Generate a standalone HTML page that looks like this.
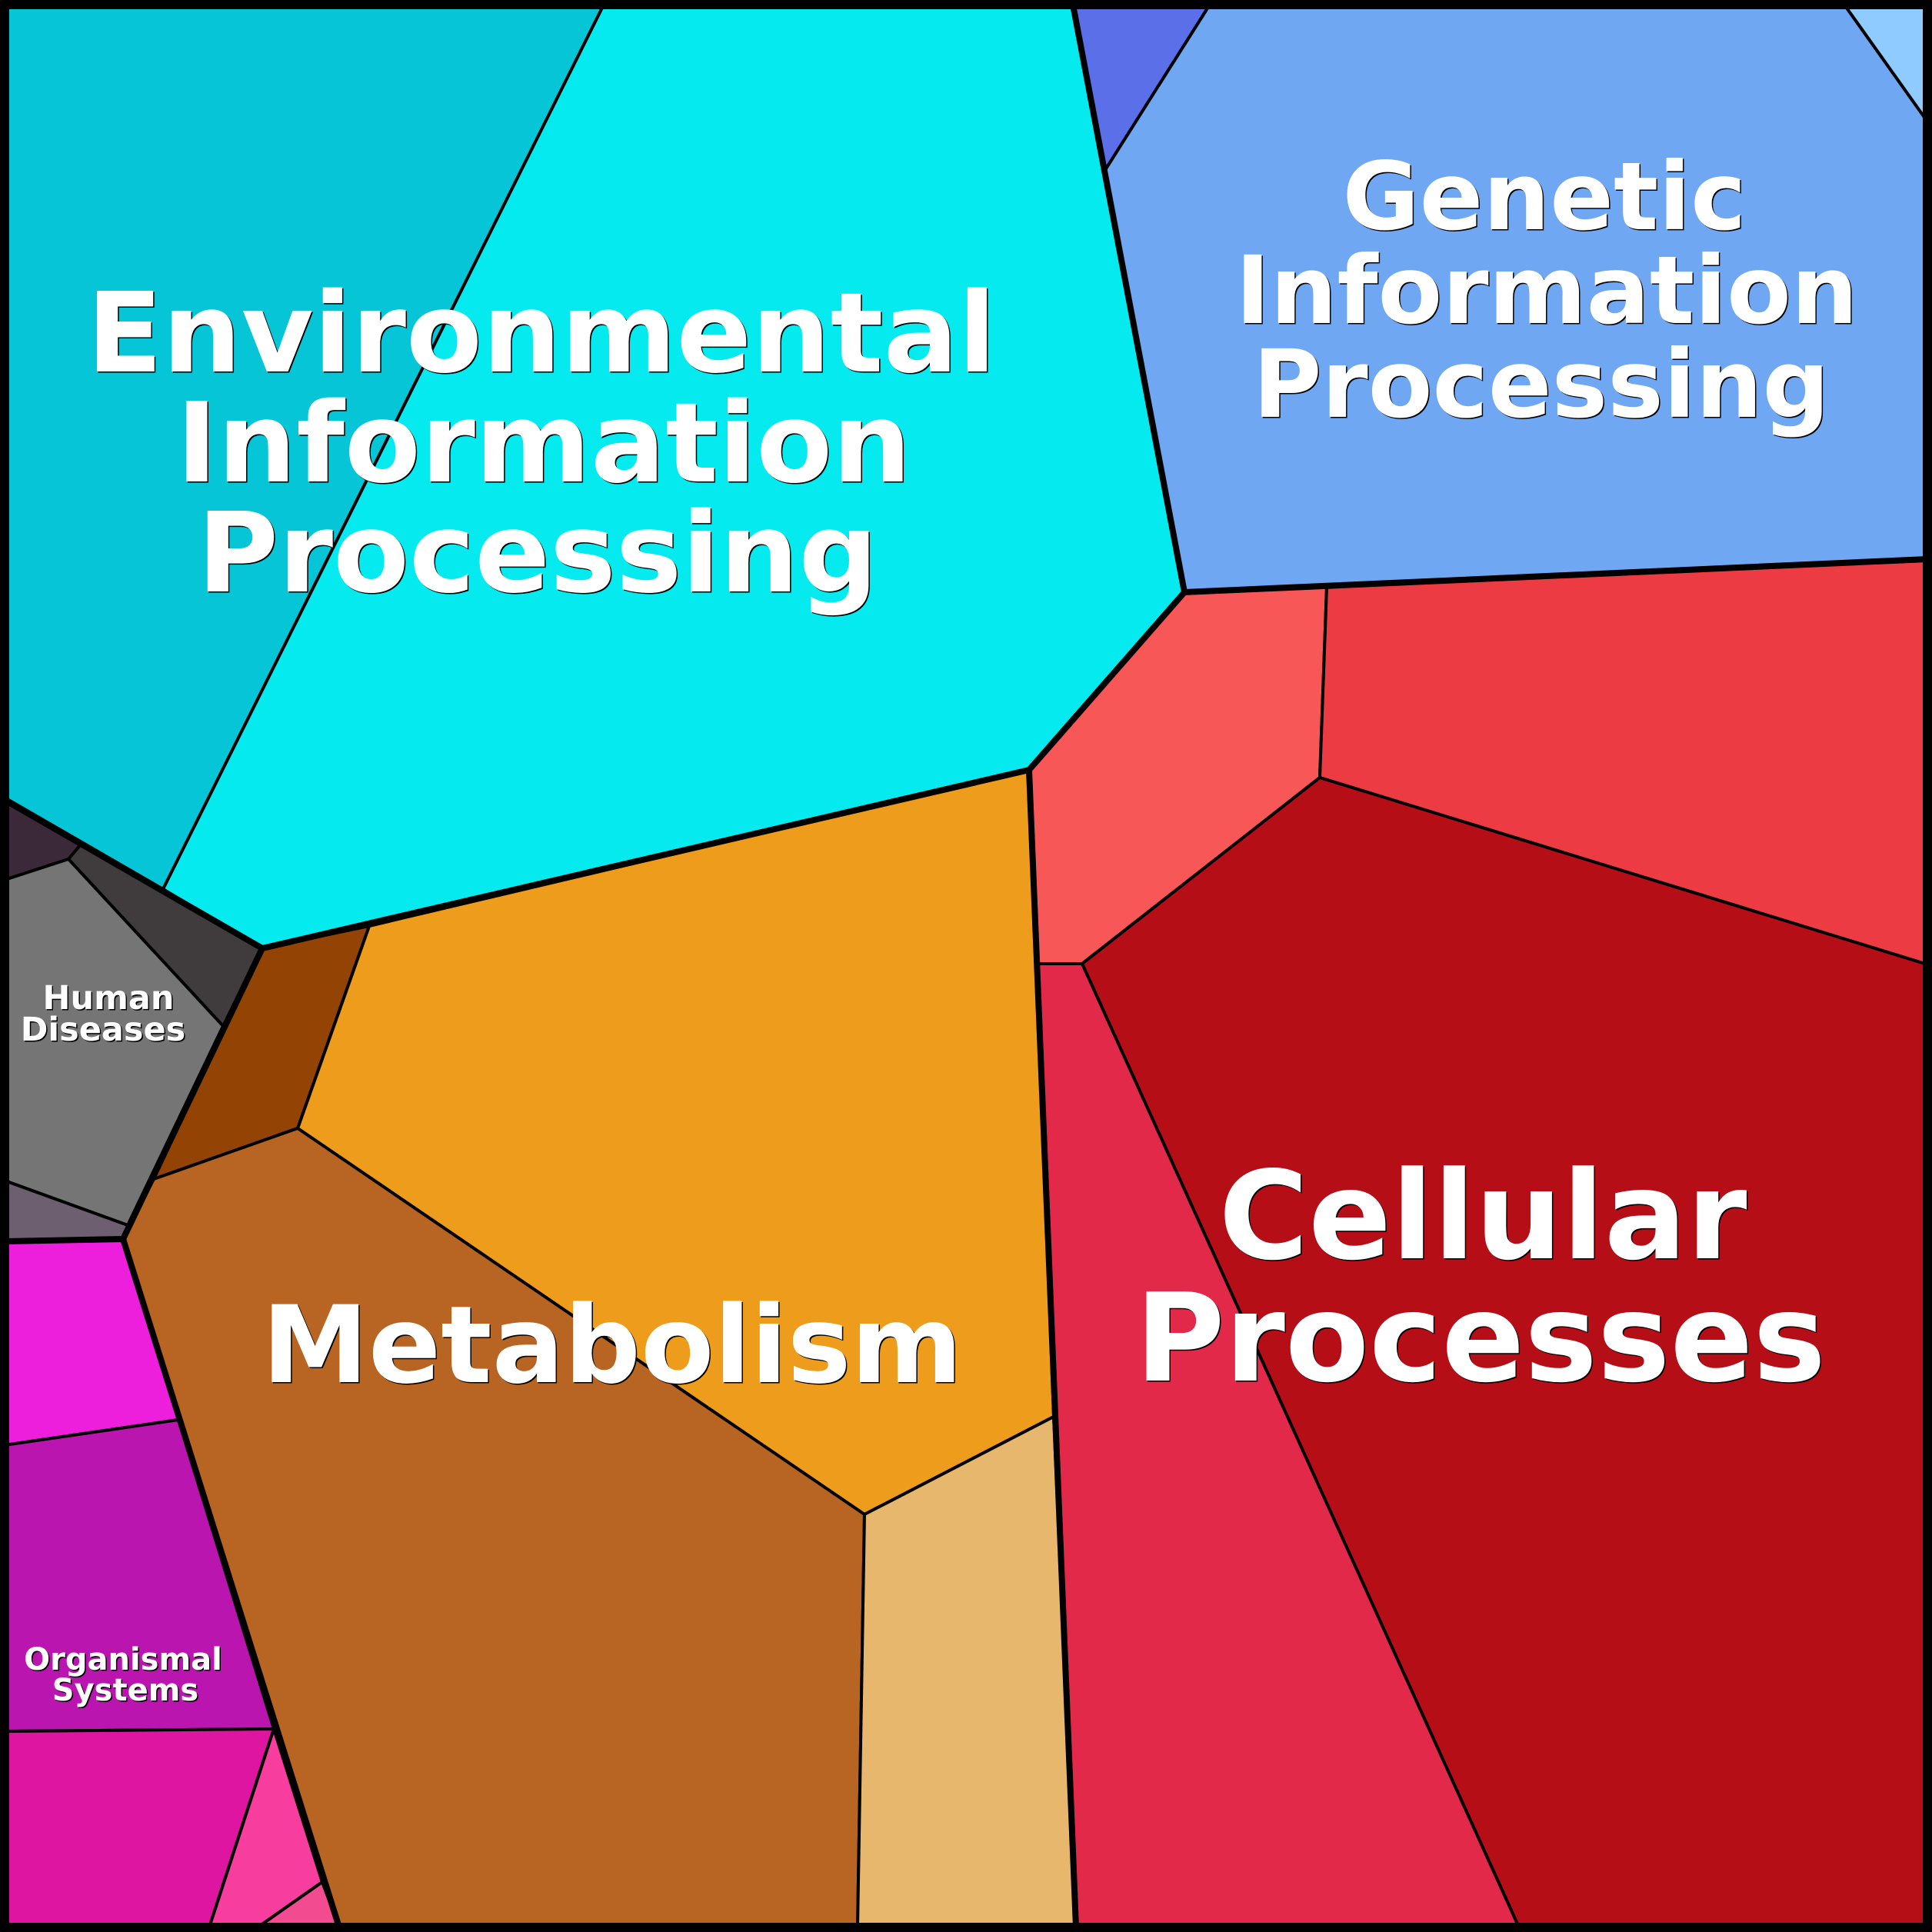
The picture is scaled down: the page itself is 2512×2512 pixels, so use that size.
<!DOCTYPE html>
<html><head><meta charset="utf-8"><style>
html,body{margin:0;padding:0;background:#000}
svg{display:block}
text{font-family:"DejaVu Sans",sans-serif;font-weight:bold;text-anchor:middle}
.s{fill:#000}.w{fill:#fff}
</style></head><body>
<svg xmlns="http://www.w3.org/2000/svg" width="2512" height="2512" viewBox="0 0 2512 2512">
<rect width="2512" height="2512" fill="#000"/>
<g stroke="#000" stroke-width="4" stroke-linejoin="miter">
<polygon fill="#05c5d6" points="6,6 785,6 212,1156 6,1037"/>
<polygon fill="#04eaee" points="785,6 1395,6 1540,770 1338,1001 341,1233 212,1156"/>
<polygon fill="#5a6fe8" points="1395,6 1573,6 1437,221"/>
<polygon fill="#6fa7f2" points="1573,6 2398,6 2506,158 2506,727 1540,770 1437,221"/>
<polygon fill="#8fcbff" points="2398,6 2506,6 2506,158"/>
<polygon fill="#f75757" points="1540,770 1725,763 1716,1011 1407,1253 1350,1253 1338,1001"/>
<polygon fill="#ec3b43" points="1725,763 2506,727 2506,1254 1716,1011"/>
<polygon fill="#b50e16" points="1716,1011 2506,1254 2506,2506 1975,2506 1407,1253"/>
<polygon fill="#e32949" points="1350,1253 1407,1253 1975,2506 1399,2506"/>
<polygon fill="#ee9c1c" points="480,1204 1338,1001 1370,1842 1124,1969 387,1467"/>
<polygon fill="#934404" points="341,1233 480,1204 387,1467 200,1533"/>
<polygon fill="#b86422" points="200,1533 387,1467 1124,1969 1115,2506 441,2506 160,1611"/>
<polygon fill="#e7b76d" points="1124,1969 1370,1842 1399,2506 1115,2506"/>
<polygon fill="#3b2838" points="6,1037 105,1098 89,1117 6,1144"/>
<polygon fill="#403c3d" points="105,1098 341,1233 290,1334 89,1117"/>
<polygon fill="#757576" points="6,1144 89,1117 290,1334 166,1593 6,1535"/>
<polygon fill="#6d5f70" points="6,1535 166,1593 160,1611 6,1614"/>
<polygon fill="#ed1fdd" points="6,1614 160,1611 232,1846 6,1879"/>
<polygon fill="#bb15af" points="6,1879 232,1846 356,2248 6,2251"/>
<polygon fill="#dd15a1" points="6,2251 356,2248 272,2506 6,2506"/>
<polygon fill="#f73d9d" points="356,2248 419,2447 335,2506 272,2506"/>
<polygon fill="#f34b8f" points="419,2447 441,2506 335,2506"/>
</g>
<g fill="none" stroke="#000" stroke-width="8" stroke-linejoin="miter">
<polyline points="1395,6 1540,770 2506,727"/>
<polyline points="1540,770 1338,1001 341,1233 6,1040"/>
<polyline points="341,1233 160,1611 6,1614"/>
<polyline points="160,1611 441,2506"/>
<polyline points="1338,1001 1399,2506"/>
</g>
<rect x="6" y="6" width="2500" height="2500" fill="none" stroke="#000" stroke-width="12"/>

<g font-size="144">
<text class="s" x="705.5" y="484.5">Environmental</text><text class="w" x="704" y="483">Environmental</text>
<text class="s" x="708.5" y="627.5">Information</text><text class="w" x="707" y="626">Information</text>
<text class="s" x="700.5" y="770.5">Processing</text><text class="w" x="699" y="769">Processing</text>
</g>
<g font-size="122">
<text class="s" x="2009.5" y="299.5">Genetic</text><text class="w" x="2008" y="298">Genetic</text>
<text class="s" x="2012.5" y="421.5">Information</text><text class="w" x="2011" y="420">Information</text>
<text class="s" x="2005.5" y="543.5">Processing</text><text class="w" x="2004" y="542">Processing</text>
</g>
<g font-size="159">
<text class="s" x="1929.5" y="1637.5">Cellular</text><text class="w" x="1928" y="1636">Cellular</text>
<text class="s" x="1926.5" y="1796.5">Processes</text><text class="w" x="1925" y="1795">Processes</text>
</g>
<g font-size="139">
<text class="s" x="797.5" y="1798.5">Metabolism</text><text class="w" x="796" y="1797">Metabolism</text>
</g>
<g font-size="43">
<text class="s" x="142.5" y="1313.5">Human</text><text class="w" x="141" y="1312">Human</text>
<text class="s" x="135.5" y="1354.5">Diseases</text><text class="w" x="134" y="1353">Diseases</text>
</g>
<g font-size="40">
<text class="s" x="161.5" y="2172.5">Organismal</text><text class="w" x="160" y="2171">Organismal</text>
<text class="s" x="164.5" y="2212.5">Systems</text><text class="w" x="163" y="2211">Systems</text>
</g>
</svg>
</body></html>
